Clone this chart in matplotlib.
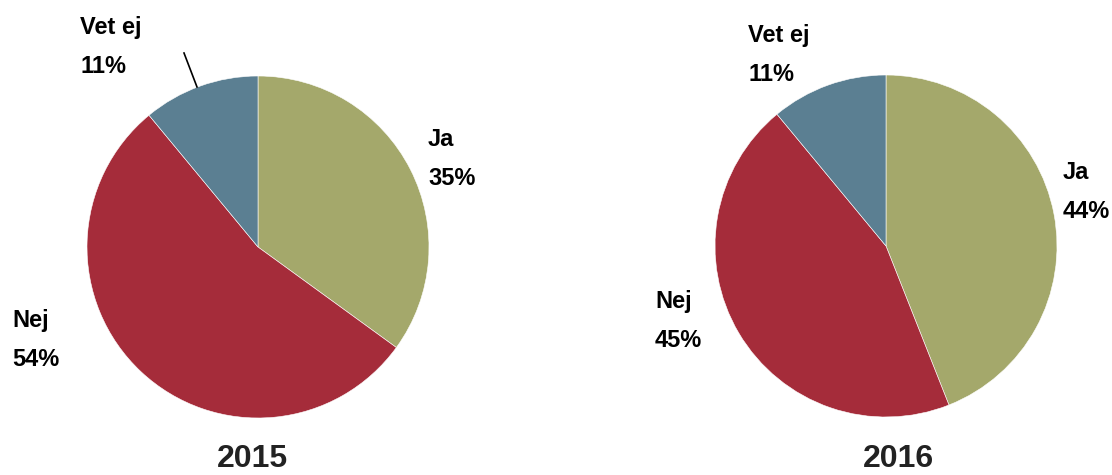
import matplotlib
matplotlib.use("Agg")
import matplotlib.pyplot as plt

plt.rcParams['font.family'] = ['Liberation Sans', 'DejaVu Sans']

categories = ["Ja", "Nej", "Vet ej"]
years = ["2015", "2016"]
values_2015 = [35, 54, 11]
values_2016 = [44, 45, 11]
colors = ["#A4A86B", "#A52C3A", "#5B7F92"]

W, H = 1112, 475
fig = plt.figure(figsize=(W / 100, H / 100), dpi=100)


def px(x, y):
    # pixel coords (from top-left) -> figure fraction
    return x / W, 1 - y / H


def draw_pie(cx, cy, r, values, label_pos, year_pos, year):
    ax = fig.add_axes([(cx - r) / W, (H - cy - r) / H, 2 * r / W, 2 * r / H])
    ax.pie(values, colors=colors, startangle=90, counterclock=False,
           wedgeprops=dict(edgecolor="white", linewidth=0.4))
    ax.set_xlim(-1, 1)
    ax.set_ylim(-1, 1)
    ax.set_aspect("equal")
    ax.axis("off")
    for cat, v, (lx, ly) in zip(categories, values, label_pos):
        fig.text(*px(lx, ly), f"{cat}\n\n{v}%", ha="left", va="center",
                 fontsize=17, fontweight="bold", linespacing=0.78)
    fig.text(*px(*year_pos), year, ha="center", va="center",
             fontsize=23, fontweight="bold", color="#222222")
    return ax


draw_pie(258, 247, 171, values_2015,
         [(428, 159), (12, 340), (80, 47)], (252, 459), years[0])
draw_pie(886, 246, 171, values_2016,
         [(1063, 192), (655, 321), (748, 55)], (898, 459), years[1])

# leader line for "Vet ej" 2015
x0, y0 = px(184, 53)
x1, y1 = px(197, 87)
fig.add_artist(plt.Line2D([x0, x1], [y0, y1], color="black", linewidth=1.2))

fig.savefig("out.png", dpi=100)
